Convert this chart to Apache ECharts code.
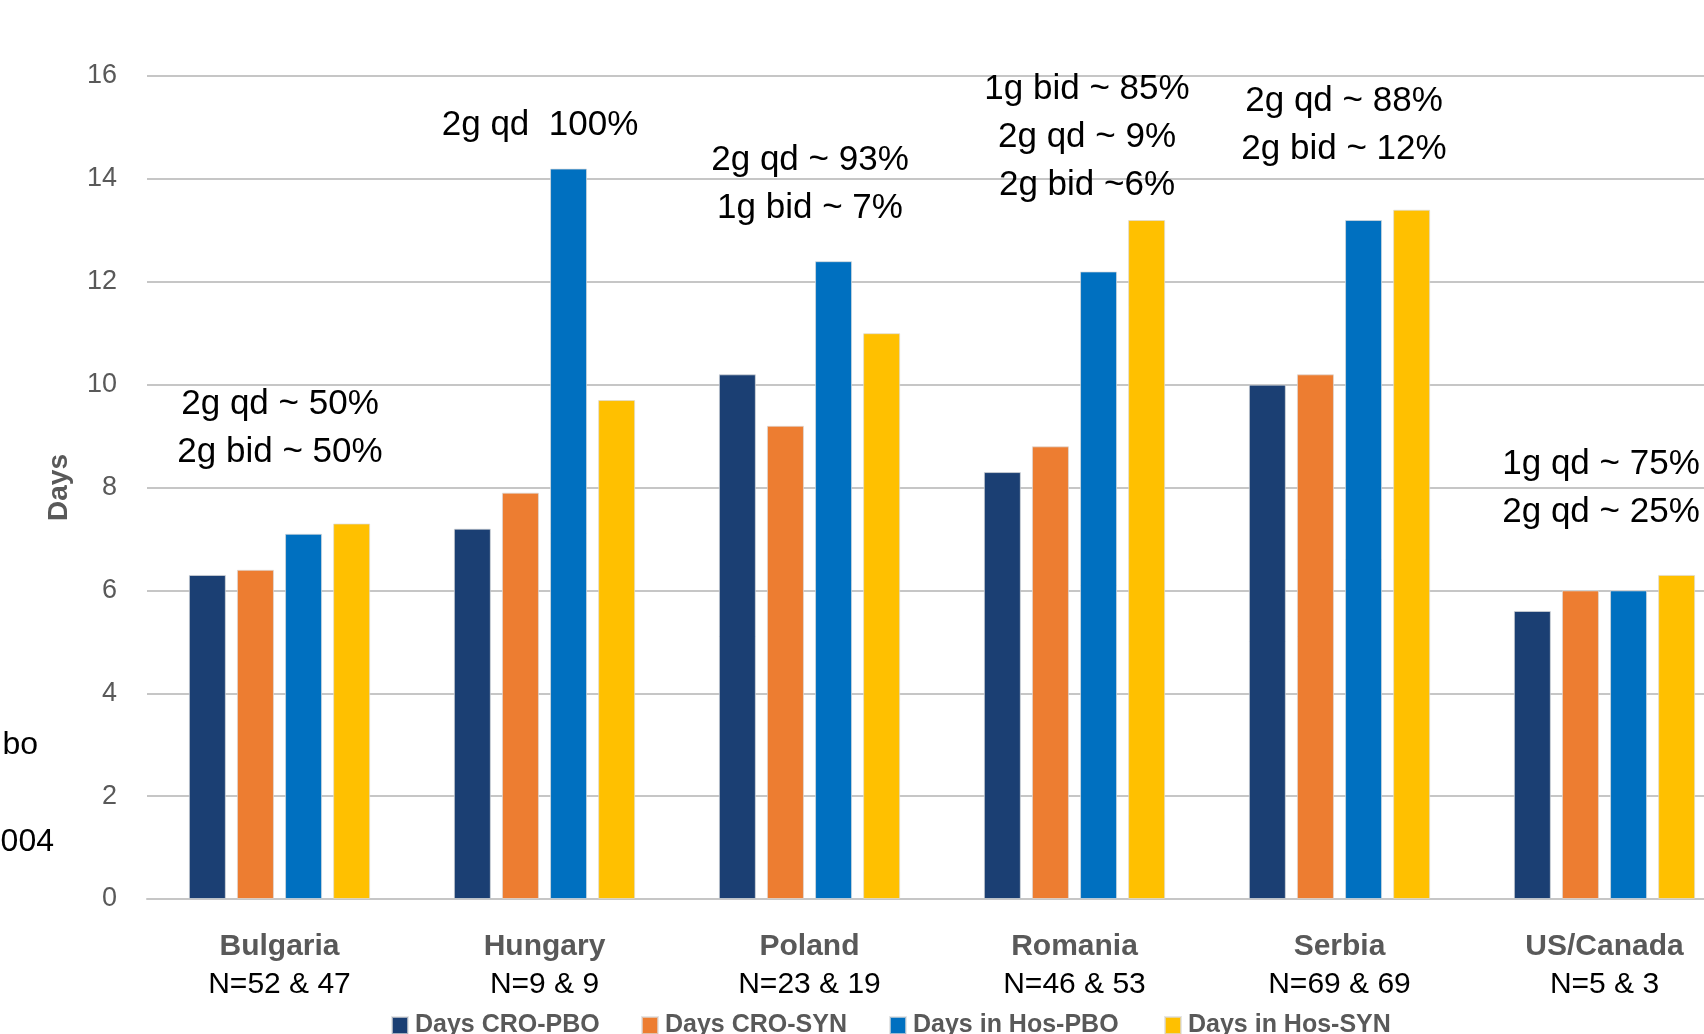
<!DOCTYPE html>
<html>
<head>
<meta charset="utf-8">
<style>
  html, body { margin: 0; padding: 0; background: #ffffff; overflow: hidden; width: 1704px; height: 1034px; }
  #chart { width: 1737px; height: 1034px; }
</style>
<script src="https://cdn.jsdelivr.net/npm/echarts@6/dist/echarts.min.js"></script>
</head>
<body>
<div id="chart"></div>
<script>
// ---- data ----
const categories = ['Bulgaria', 'Hungary', 'Poland', 'Romania', 'Serbia', 'US/Canada'];
const sampleSizes = ['N=52 & 47', 'N=9 & 9', 'N=23 & 19', 'N=46 & 53', 'N=69 & 69', 'N=5 & 3'];
const seriesNames = ['Days CRO-PBO', 'Days CRO-SYN', 'Days in Hos-PBO', 'Days in Hos-SYN'];
const croPbo = [6.3, 7.2, 10.2, 8.3, 10.0, 5.6];
const croSyn = [6.4, 7.9, 9.2, 8.8, 10.2, 6.0];
const hosPbo = [7.1, 14.2, 12.4, 12.2, 13.2, 6.0];
const hosSyn = [7.3, 9.7, 11.0, 13.2, 13.4, 6.3];
const yTicks = [0, 2, 4, 6, 8, 10, 12, 14, 16];
const annotationLines = [
  ['2g qd ~ 50%', '2g bid ~ 50%'],
  ['2g qd  100%'],
  ['2g qd ~ 93%', '1g bid ~ 7%'],
  ['1g bid ~ 85%', '2g qd ~ 9%', '2g bid ~6%'],
  ['2g qd ~ 88%', '2g bid ~ 12%'],
  ['1g qd ~ 75%', '2g qd ~ 25%']
];
const sideTexts = ['bo', '004'];

// ---- styling / layout ----
const colors = ['#1b3f73', '#ed7d31', '#0070c0', '#ffc000'];
const FONT = '"Liberation Sans", Arial, sans-serif';
const annPos = [[280, 404], [540, 125], [810, 160], [1087, 89], [1344, 101], [1601, 464]];
const annLineH = 48;
const legendLeft = [391, 641, 889, 1164];

const chart = echarts.init(document.getElementById('chart'));
const allSeries = [croPbo, croSyn, hosPbo, hosSyn];

const graphics = [];
annotationLines.forEach((lines, i) => {
  lines.forEach((t, j) => {
    graphics.push({
      type: 'text',
      x: annPos[i][0], y: annPos[i][1] + j * annLineH,
      style: { text: t, fill: '#000000', font: '35px ' + FONT, textAlign: 'center', textVerticalAlign: 'middle' },
      z: 10
    });
  });
});
graphics.push({ type: 'text', x: 38, y: 745, style: { text: sideTexts[0], fill: '#000', font: '32px ' + FONT, textAlign: 'right', textVerticalAlign: 'middle' } });
graphics.push({ type: 'text', x: 54, y: 842, style: { text: sideTexts[1], fill: '#000', font: '32px ' + FONT, textAlign: 'right', textVerticalAlign: 'middle' } });

const legends = seriesNames.map((n, i) => ({
  data: [n],
  left: legendLeft[i],
  top: 1013,
  icon: 'rect',
  itemWidth: 16,
  itemHeight: 17,
  itemGap: 0,
  textStyle: { fontFamily: FONT, fontSize: 25, fontWeight: 'bold', color: '#595959', padding: [0, 0, 0, 2] },
  selectedMode: false,
  padding: 0
}));

chart.setOption({
  animation: false,
  backgroundColor: '#ffffff',
  color: colors,
  grid: { left: 147, right: 0, top: 76, bottom: 135, containLabel: false },
  legend: legends,
  xAxis: {
    type: 'category',
    data: categories,
    axisLine: { show: true, lineStyle: { color: '#c6c6c6', width: 2 } },
    axisTick: { show: false },
    axisLabel: {
      margin: 29,
      interval: 0,
      formatter: function (v, idx) { return '{b|' + v + '}\n{n|' + sampleSizes[idx] + '}'; },
      rich: {
        b: { fontFamily: FONT, fontSize: 30, fontWeight: 'bold', color: '#595959', lineHeight: 38 },
        n: { fontFamily: FONT, fontSize: 30, color: '#000000', lineHeight: 38 }
      }
    }
  },
  yAxis: {
    type: 'value',
    min: yTicks[0],
    max: yTicks[yTicks.length - 1],
    interval: 2,
    name: 'Days',
    nameLocation: 'middle',
    nameGap: 74,
    nameRotate: 90,
    nameTextStyle: { fontFamily: FONT, fontSize: 28, fontWeight: 'bold', color: '#595959' },
    axisLine: { show: false },
    axisTick: { show: false },
    axisLabel: { fontFamily: FONT, fontSize: 27, color: '#595959', margin: 30 },
    splitLine: { lineStyle: { color: '#c6c6c6', width: 2 } }
  },
  series: seriesNames.map((n, i) => ({
    name: n,
    type: 'bar',
    data: allSeries[i],
    barWidth: 37,
    barGap: '30%',
    itemStyle: { color: colors[i], borderColor: 'rgba(220,220,220,0.7)', borderWidth: 1 }
  })),
  graphic: graphics
});
</script>
</body>
</html>
